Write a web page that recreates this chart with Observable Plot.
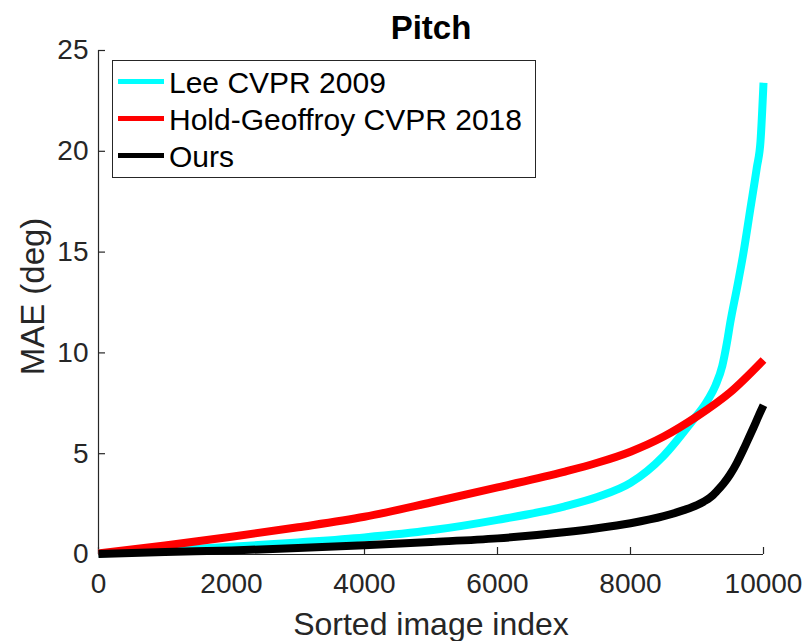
<!DOCTYPE html>
<html>
<head>
<meta charset="utf-8">
<script src="https://cdn.jsdelivr.net/npm/d3@7"></script>
<script src="https://cdn.jsdelivr.net/npm/@observablehq/plot@0.6"></script>
<style>
  html, body { margin: 0; padding: 0; background: #fff; }
  #wrap { position: relative; width: 806px; height: 641px; font-family: "Liberation Sans", Arial, sans-serif; }
  #legend { position: absolute; left: 112px; top: 60px; width: 422px; height: 116px; border: 1px solid #262626; background: #fff; box-sizing: content-box; }
  .row { position: absolute; left: 0; height: 37px; width: 100%; }
  .sw { position: absolute; left: 5px; width: 46px; height: 5px; }
  .lab { position: absolute; left: 56px; font-size: 30px; color: #000; white-space: nowrap; line-height: 1; }
</style>
</head>
<body>
<div id="wrap"></div>
<script>
// ---- data ----
const seriesNames = ["Lee CVPR 2009", "Hold-Geoffroy CVPR 2018", "Ours"];
const seriesColors = ["#00FFFF", "#FF0000", "#000000"];

const leeIdx = [0, 500, 1000, 2000, 3000, 4000, 5000, 6000, 7000, 7500, 8000, 8500, 8900, 9160, 9280, 9380, 9450, 9500, 9600, 9690, 9800, 9900, 9955, 10000];
const leeMAE = [0.05, 0.12, 0.2, 0.38, 0.6, 0.85, 1.2, 1.72, 2.38, 2.85, 3.55, 4.9, 6.5, 7.65, 8.4, 9.35, 10.5, 11.5, 13.2, 14.8, 17.1, 19.2, 20.5, 23.4];

const holdIdx = [0, 1000, 2000, 3000, 4000, 5000, 6000, 7000, 7500, 8000, 8500, 9000, 9500, 10000];
const holdMAE = [0.05, 0.45, 0.88, 1.35, 1.87, 2.58, 3.33, 4.1, 4.55, 5.1, 5.85, 6.85, 8.05, 9.65];

const oursIdx = [0, 1000, 2000, 3000, 4000, 5000, 6000, 7000, 7500, 8000, 8500, 8800, 9000, 9100, 9200, 9300, 9400, 9500, 9600, 9700, 9760, 9850, 9930, 10000];
const oursMAE = [0.02, 0.12, 0.2, 0.32, 0.46, 0.62, 0.8, 1.1, 1.3, 1.55, 1.9, 2.2, 2.45, 2.62, 2.83, 3.15, 3.52, 3.98, 4.55, 5.22, 5.65, 6.3, 6.9, 7.4];

const xTicks = [0, 2000, 4000, 6000, 8000, 10000];
const yTicks = [0, 5, 10, 15, 20, 25];

const titleText = "Pitch";
const xLabel = "Sorted image index";
const yLabel = "MAE (deg)";

// ---- build tables ----
const toRows = (idx, mae, name) => idx.map((x, i) => ({x, y: mae[i], name}));
const series = [
  toRows(leeIdx, leeMAE, seriesNames[0]),
  toRows(holdIdx, holdMAE, seriesNames[1]),
  toRows(oursIdx, oursMAE, seriesNames[2])
];

const W = 806, H = 641;
const mL = 98, mR = 43, mT = 50, mB = 87;
const frameW = W - mL - mR, frameH = H - mT - mB;
const tickLen = 7;
const axisColor = "#262626";

const chart = Plot.plot({
  width: W,
  height: H,
  marginLeft: mL,
  marginRight: mR,
  marginTop: mT,
  marginBottom: mB,
  style: {fontFamily: "'Liberation Sans', Arial, sans-serif", fontSize: "28px", color: axisColor, background: "#fff", overflow: "visible"},
  x: {domain: [0, 10000]},
  y: {domain: [0, 25]},
  marks: [
    // axis lines
    Plot.ruleY([0], {stroke: axisColor, strokeWidth: 1.2}),
    Plot.ruleX([0], {stroke: axisColor, strokeWidth: 1.2}),
    // inward ticks
    Plot.tickX(xTicks, {x: d => d, stroke: axisColor, strokeWidth: 1.2, insetTop: frameH - tickLen}),
    Plot.tickY(yTicks, {y: d => d, stroke: axisColor, strokeWidth: 1.2, insetRight: frameW - tickLen}),
    // tick labels
    Plot.axisX({ticks: xTicks, tickSize: 0, tickPadding: 19, label: null, tickFormat: d => String(d), fontSize: 28, fill: axisColor}),
    Plot.axisY({ticks: yTicks, tickSize: 0, tickPadding: 10, label: null, tickFormat: d => String(d), fontSize: 28, fill: axisColor}),
    // data lines
    ...series.map((rows, i) => Plot.line(rows, {x: "x", y: "y", stroke: seriesColors[i], strokeWidth: 8, strokeLinecap: "butt", strokeLinejoin: "round", curve: "monotone-x"})),
    // title and axis labels
    Plot.text([titleText], {text: d => d, frameAnchor: "top", lineAnchor: "bottom", dy: -12, fontSize: 33, fontWeight: "bold", fill: "#000"}),
    Plot.text([xLabel], {text: d => d, frameAnchor: "bottom", lineAnchor: "bottom", dy: 80, fontSize: 32, fill: axisColor}),
    Plot.text([yLabel], {text: d => d, frameAnchor: "left", textAnchor: "middle", lineAnchor: "bottom", rotate: -90, dx: -55, dy: -6, fontSize: 33, fill: axisColor})
  ]
});

const wrap = document.getElementById("wrap");
wrap.appendChild(chart);

// legend (HTML overlay)
const legend = document.createElement("div");
legend.id = "legend";
seriesNames.forEach((name, i) => {
  const row = document.createElement("div");
  row.className = "row";
  row.style.top = (2 + i * 37) + "px";
  const sw = document.createElement("div");
  sw.className = "sw";
  sw.style.background = seriesColors[i];
  sw.style.top = "16px";
  const lab = document.createElement("div");
  lab.className = "lab";
  lab.style.top = "5px";
  lab.textContent = name;
  row.appendChild(sw);
  row.appendChild(lab);
  legend.appendChild(row);
});
wrap.appendChild(legend);
</script>
</body>
</html>
